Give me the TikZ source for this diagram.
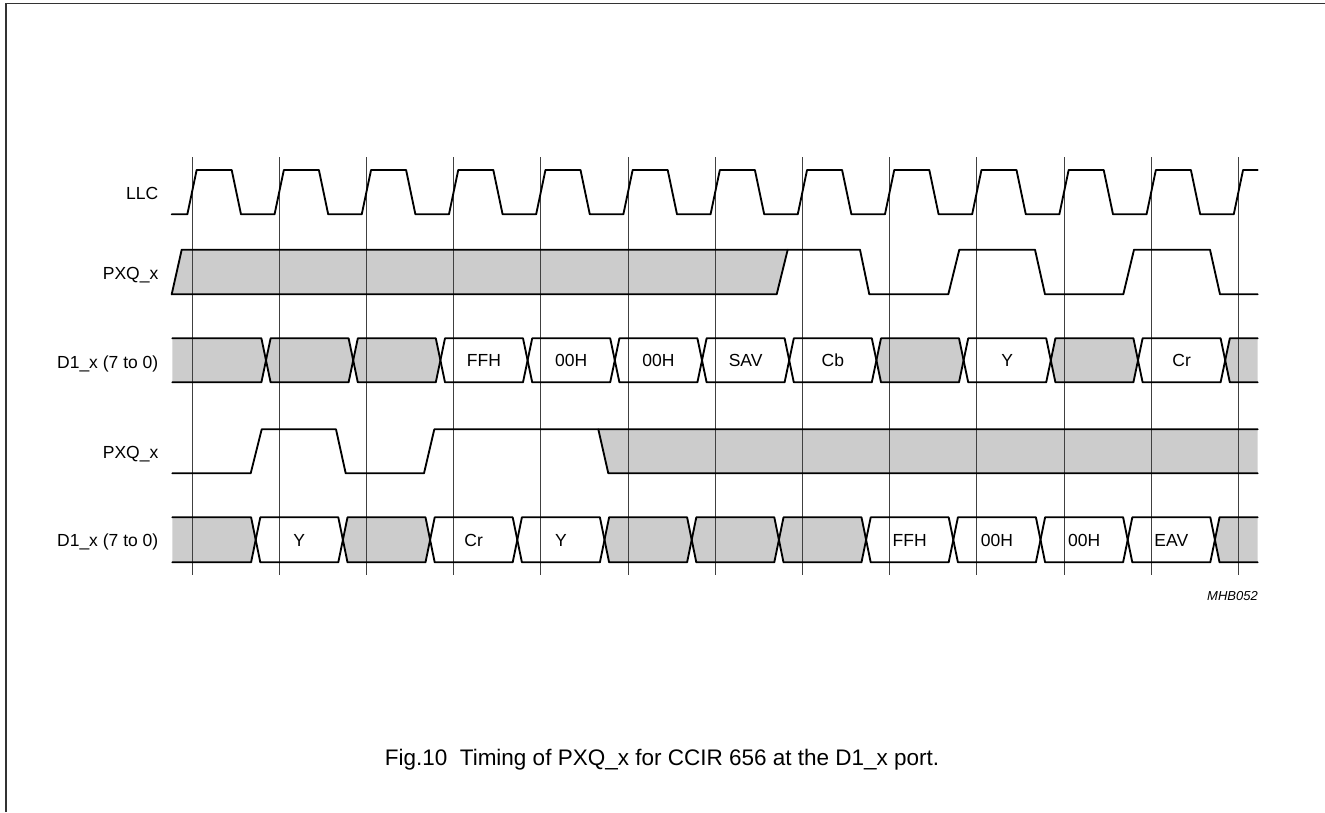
\documentclass[tikz,border=0pt]{standalone}
\usepackage{fontspec}
\setmainfont{Liberation Sans}
\definecolor{busgray}{HTML}{CCCCCC}
\begin{document}
\begin{tikzpicture}[x=1pt,y=-1pt,
  wave/.style={line width=1.85pt, line join=round, line cap=round},
  gridline/.style={line width=1pt, black!75},
  frameline/.style={line width=1.6pt, black!80},
  lbl/.style={anchor=base east, inner sep=0pt, font=\fontsize{17.5}{20}\selectfont},
  celltxt/.style={anchor=base, inner sep=0pt, font=\fontsize{17.5}{20}\selectfont}]
\useasboundingbox (0,0) rectangle (1325,812);
% frame (top and left only)
\draw[frameline] (5.7,812) -- (5.7,3.3) -- (1325,3.3);

% ---------- fills ----------
% PXQ_x (top) undefined region
\fill[busgray] (171.7,294.3) -- (181.7,249.7) -- (787.7,249.7) -- (776.7,294.3) -- cycle;
% PXQ_x (bottom) undefined region
\fill[busgray] (598.3,429.3) -- (608.3,473.3) -- (1257.7,473.3) -- (1257.7,429.3) -- cycle;
% D1_x row A gray cells
\fill[busgray] (172.3,338.3) -- (261.4,338.3) -- (266,360.3) -- (261.4,382.3) -- (172.3,382.3) -- cycle;
\foreach \i in {1,2,8,10} {
  \pgfmathsetmacro\ca{266+87.2*(\i-1)}
  \pgfmathsetmacro\cb{266+87.2*\i}
  \fill[busgray] (\ca,360.3) -- ({\ca+4.6},338.3) -- ({\cb-4.6},338.3) -- (\cb,360.3) -- ({\cb-4.6},382.3) -- ({\ca+4.6},382.3) -- cycle;
}
\fill[busgray] (1257.7,338.3) -- (1229.8,338.3) -- (1225.2,360.3) -- (1229.8,382.3) -- (1257.7,382.3) -- cycle;
% D1_x row B gray cells
\fill[busgray] (172.3,517.3) -- (251.1,517.3) -- (255.7,539.8) -- (251.1,562.3) -- (172.3,562.3) -- cycle;
\foreach \i in {2,5,6,7} {
  \pgfmathsetmacro\ca{255.7+87.2*(\i-1)}
  \pgfmathsetmacro\cb{255.7+87.2*\i}
  \fill[busgray] (\ca,539.8) -- ({\ca+4.6},517.3) -- ({\cb-4.6},517.3) -- (\cb,539.8) -- ({\cb-4.6},562.3) -- ({\ca+4.6},562.3) -- cycle;
}
\fill[busgray] (1257.7,517.3) -- (1219.5,517.3) -- (1214.9,539.8) -- (1219.5,562.3) -- (1257.7,562.3) -- cycle;

% ---------- clock grid ----------
\foreach \k in {0,...,12} {
  \draw[gridline] ({192+87.2*\k},157) -- ({192+87.2*\k},575);
}

% ---------- waveforms ----------
% LLC
\draw[wave] (171.7,214.3)
  \foreach \k in {0,...,11} {
    -- ({192+87.2*\k-4.65},214.3) -- ({192+87.2*\k+4.65},170)
    -- ({192+87.2*\k+39.7},170) -- ({192+87.2*\k+49},214.3) }
  -- (1233.75,214.3) -- (1243.05,170) -- (1257.7,170);
% PXQ_x (top)
\draw[wave] (171.7,294.3) -- (181.7,249.7) -- (860,249.7) -- (869.3,294.3)
  -- (948.3,294.3) -- (959.3,249.7) -- (1035,249.7) -- (1045,294.3)
  -- (1123.3,294.3) -- (1134,249.7) -- (1210,249.7) -- (1220,294.3) -- (1257.7,294.3);
\draw[wave] (171.7,294.3) -- (776.7,294.3) -- (787.7,249.7);
% D1_x row A
\draw[wave] (172.3,338.3) -- (261.4,338.3) -- (266,360.3) -- (261.4,382.3) -- (172.3,382.3);
\foreach \i in {1,...,11} {
  \pgfmathsetmacro\ca{266+87.2*(\i-1)}
  \pgfmathsetmacro\cb{266+87.2*\i}
  \draw[wave] (\ca,360.3) -- ({\ca+4.6},338.3) -- ({\cb-4.6},338.3) -- (\cb,360.3) -- ({\cb-4.6},382.3) -- ({\ca+4.6},382.3) -- cycle;
}
\draw[wave] (1257.7,338.3) -- (1229.8,338.3) -- (1225.2,360.3) -- (1229.8,382.3) -- (1257.7,382.3);
% PXQ_x (bottom)
\draw[wave] (172.3,473.3) -- (250.7,473.3) -- (261.7,429.3) -- (336,429.3) -- (345.7,473.3)
  -- (424,473.3) -- (434.3,429.3) -- (1257.7,429.3);
\draw[wave] (598.3,429.3) -- (608.3,473.3) -- (1257.7,473.3);
% D1_x row B
\draw[wave] (172.3,517.3) -- (251.1,517.3) -- (255.7,539.8) -- (251.1,562.3) -- (172.3,562.3);
\foreach \i in {1,...,11} {
  \pgfmathsetmacro\ca{255.7+87.2*(\i-1)}
  \pgfmathsetmacro\cb{255.7+87.2*\i}
  \draw[wave] (\ca,539.8) -- ({\ca+4.6},517.3) -- ({\cb-4.6},517.3) -- (\cb,539.8) -- ({\cb-4.6},562.3) -- ({\ca+4.6},562.3) -- cycle;
}
\draw[wave] (1257.7,517.3) -- (1219.5,517.3) -- (1214.9,539.8) -- (1219.5,562.3) -- (1257.7,562.3);

% ---------- cell texts ----------
\foreach \i/\t in {3/FFH,4/00H,5/00H,6/SAV,7/Cb,9/Y,11/Cr} {
  \node[celltxt] (a\i) at ({266+87.2*(\i-0.5)},366.5) {\t};
}
\foreach \i/\t in {1/Y,3/Cr,4/Y,8/FFH,9/00H,10/00H,11/EAV} {
  \node[celltxt] (b\i) at ({255.7+87.2*(\i-0.5)},546) {\t};
}

% ---------- signal labels ----------
\node[lbl] (llc) at (158.5,199.3) {LLC};
\node[lbl] (pxqa) at (158.5,279.3) {PXQ\_x};
\node[lbl] (d1a) at (158.5,368.7) {D1\_x (7 to 0)};
\node[lbl] (pxqb) at (158.5,458) {PXQ\_x};
\node[lbl] (d1b) at (158.5,546) {D1\_x (7 to 0)};

\node[anchor=base east, inner sep=0pt, font=\fontsize{13}{15}\selectfont\itshape] (code) at (1258,600) {MHB052};

\node[anchor=base, inner sep=0pt, font=\fontsize{22.5}{26}\selectfont] (caption) at (662,765) {Fig.10\ \ Timing of PXQ\_x for CCIR 656 at the D1\_x port.};
\end{tikzpicture}
\end{document}
